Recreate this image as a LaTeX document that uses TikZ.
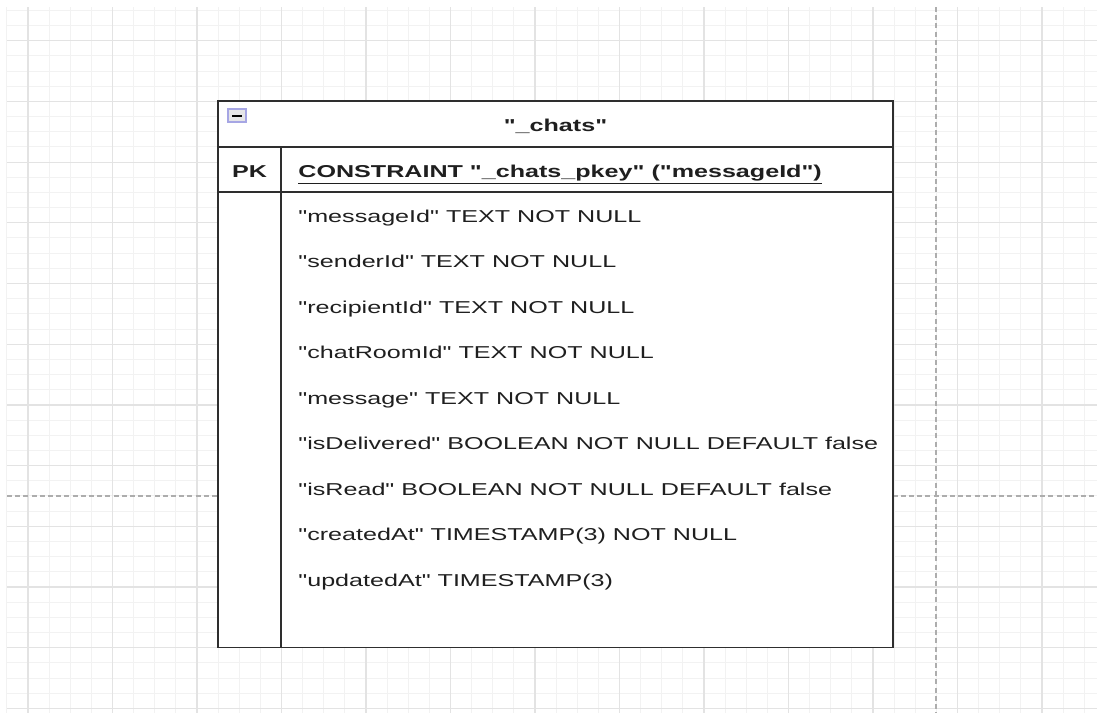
\documentclass[tikz,border=0pt]{standalone}
\usepackage{fontspec}
\setmainfont{Liberation Sans}
\usepackage{graphicx}
\newcommand{\wtext}[1]{\scalebox{1.46}[1]{#1}}
\newcommand{\dq}{\textquotedbl}

\begin{document}
\begin{tikzpicture}[x=0.5pt,y=-0.5pt,
  minorline/.style={draw=black!5, line width=0.5pt},
  majorline/.style={draw=black!11, line width=0.6pt},
  guideline/.style={draw=black!32, dash pattern=on 2.5pt off 1.6pt, line width=0.6pt},
  tableline/.style={draw=black!82, line width=0.8pt},
  fieldtext/.style={anchor=base west, inner sep=0pt, text=black!88, font=\fontsize{8.6}{10}\selectfont},
  headtext/.style={anchor=base, inner sep=0pt, text=black!88, font=\fontsize{8.6}{10}\selectfont\bfseries}]
%\draw[help lines] (0,0) grid (1097,713);
\useasboundingbox (0,0) rectangle (1097,713);

% background grid
\foreach \i in {0,...,51}
  \draw[minorline] ({6.875+21.125*\i},7) -- ({6.875+21.125*\i},713);
\foreach \i in {0,...,46}
  \draw[minorline] (7,{10.35+15.175*\i}) -- (1097,{10.35+15.175*\i});
\foreach \i in {0,...,12}
  \draw[majorline] ({28+84.5*\i},7) -- ({28+84.5*\i},713);
\foreach \i in {0,...,11}
  \draw[majorline] (7,{40.7+60.7*\i}) -- (1097,{40.7+60.7*\i});

% page break guides
\draw[guideline] (936,7) -- (936,713);
\draw[guideline] (7,496) -- (1097,496);

% table
\draw[tableline, fill=white] (218,101) rectangle (893,647.5);
\draw[tableline] (218,147) -- (893,147);
\draw[tableline] (218,192) -- (893,192);
\draw[tableline] (281,147) -- (281,647.5);

% collapse button
\draw[draw=black!30!blue!35, fill=blue!5!black!10, line width=0.6pt] (228,109) rectangle (246,122);
\draw[line width=1pt] (232,115.5) -- (242,115.5);

\node[headtext] (title) at (555.5,131) {\wtext{\dq\_chats\dq}};
\node[headtext] (pk) at (249.5,177) {\wtext{PK}};
\node[fieldtext, font=\fontsize{8.6}{10}\selectfont\bfseries] (pkey) at (298,177)
  {\wtext{\underline{CONSTRAINT \dq\_chats\_pkey\dq{} (\dq messageId\dq)}}};

\foreach \txt [count=\n from 0] in {
  {\dq messageId\dq{} TEXT NOT NULL},
  {\dq senderId\dq{} TEXT NOT NULL},
  {\dq recipientId\dq{} TEXT NOT NULL},
  {\dq chatRoomId\dq{} TEXT NOT NULL},
  {\dq message\dq{} TEXT NOT NULL},
  {\dq isDelivered\dq{} BOOLEAN NOT NULL DEFAULT false},
  {\dq isRead\dq{} BOOLEAN NOT NULL DEFAULT false},
  {\dq createdAt\dq{} TIMESTAMP(3) NOT NULL},
  {\dq updatedAt\dq{} TIMESTAMP(3)}}
  \node[fieldtext] (field\n) at (298,{222+45.5*\n}) {\wtext{\txt}};
\end{tikzpicture}
\end{document}
